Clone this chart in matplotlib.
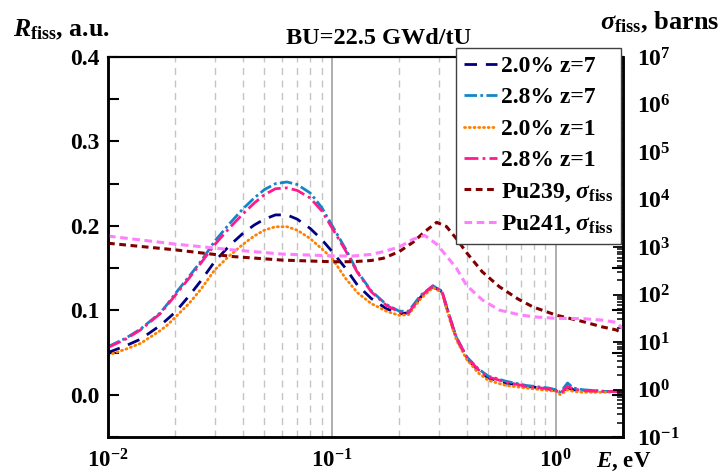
import numpy as np
import matplotlib
matplotlib.use("Agg")
import matplotlib.pyplot as plt
from matplotlib.ticker import MultipleLocator, LogLocator, FuncFormatter, NullFormatter

plt.rcParams['font.family'] = 'Liberation Serif'
plt.rcParams['font.weight'] = 'bold'
plt.rcParams['mathtext.fontset'] = 'custom'
plt.rcParams['mathtext.rm'] = 'Liberation Serif:bold'
plt.rcParams['mathtext.bf'] = 'Liberation Serif:bold'
plt.rcParams['mathtext.it'] = 'Liberation Serif:italic:bold'

# reaction rate energy grid, eV
energy = [0.01, 0.012, 0.014, 0.0171, 0.0185, 0.02, 0.023, 0.026, 0.03, 0.035,
          0.04, 0.045, 0.05, 0.056, 0.063, 0.07, 0.08, 0.09, 0.1, 0.115,
          0.13, 0.15, 0.175, 0.2, 0.22, 0.25, 0.283, 0.31, 0.34, 0.36,
          0.4, 0.45, 0.5, 0.6, 0.74, 0.93, 1.0, 1.05, 1.13, 1.2,
          1.32, 1.67, 2.0]

r_20_z7 = [0.050, 0.058, 0.066, 0.082, 0.090, 0.098, 0.117, 0.135, 0.158, 0.177,
           0.191, 0.201, 0.208, 0.213, 0.213, 0.208, 0.197, 0.184, 0.170, 0.150,
           0.130, 0.114, 0.102, 0.096, 0.097, 0.116, 0.128, 0.122, 0.087, 0.067,
           0.044, 0.029, 0.020, 0.014, 0.010, 0.007, 0.005, 0.002, 0.008, 0.006,
           0.005, 0.004, 0.004]

r_28_z7 = [0.057, 0.067, 0.078, 0.097, 0.108, 0.120, 0.140, 0.158, 0.182, 0.203,
           0.220, 0.233, 0.243, 0.250, 0.252, 0.249, 0.239, 0.222, 0.201, 0.173,
           0.146, 0.123, 0.107, 0.099, 0.099, 0.118, 0.129, 0.123, 0.088, 0.068,
           0.045, 0.031, 0.022, 0.016, 0.011, 0.008, 0.006, 0.003, 0.014, 0.008,
           0.006, 0.004, 0.004]

r_20_z1 = [0.047, 0.054, 0.061, 0.076, 0.083, 0.092, 0.108, 0.125, 0.148, 0.165,
           0.178, 0.188, 0.195, 0.199, 0.199, 0.195, 0.185, 0.173, 0.162, 0.138,
           0.121, 0.108, 0.099, 0.094, 0.095, 0.114, 0.127, 0.121, 0.085, 0.065,
           0.042, 0.026, 0.017, 0.011, 0.008, 0.005, 0.004, 0.000, 0.006, 0.004,
           0.003, 0.003, 0.004]

r_28_z1 = [0.056, 0.066, 0.077, 0.096, 0.107, 0.118, 0.138, 0.156, 0.178, 0.198,
           0.214, 0.227, 0.237, 0.244, 0.245, 0.242, 0.233, 0.218, 0.198, 0.171,
           0.145, 0.122, 0.106, 0.098, 0.097, 0.117, 0.129, 0.123, 0.088, 0.068,
           0.045, 0.030, 0.021, 0.015, 0.010, 0.007, 0.005, 0.002, 0.010, 0.007,
           0.005, 0.004, 0.004]

# fission cross sections, barns
energy_xs = [0.01, 0.02, 0.036, 0.06, 0.1, 0.124, 0.15, 0.17, 0.2, 0.23,
             0.26, 0.294, 0.325, 0.36, 0.4, 0.47, 0.56, 0.68, 0.79, 1.0,
             1.32, 1.6, 1.86, 2.0]
xs_pu239 = [1200, 870, 630, 530, 490, 490, 520, 580, 800, 1250,
            2100, 3300, 2700, 1500, 760, 300, 146, 80, 55, 37,
            27, 21, 18, 15.5]
xs_pu241 = [1700, 1150, 870, 710, 650, 645, 700, 800, 1000, 1450,
            1750, 1150, 650, 360, 155, 77, 47, 38, 34, 31.5,
            31, 29, 26, 19]

fig = plt.figure(figsize=(7.26, 4.76), dpi=100)
ax = fig.add_axes([0.1488, 0.0819, 0.7094, 0.7984])
ax2 = ax.twinx()

l1, = ax.plot(energy, r_20_z7, color='#000080', lw=2.0, ls=(0, (4.5, 3.2)), label='2.0% z=7')
l2, = ax.plot(energy, r_28_z7, color='#1287c8', lw=2.0, ls=(0, (4.5, 1.2, 1.0, 1.2)), label='2.8% z=7')
l3, = ax.plot(energy, r_20_z1, color='#ff8000', lw=2.0, ls=(0, (0.4, 1.3)),
              dash_capstyle='round', label='2.0% z=1')
l4, = ax.plot(energy, r_28_z1, color='#ff1a8c', lw=2.0, ls=(0, (5, 1.5, 1.0, 1.5)), label='2.8% z=1')
l5, = ax2.plot(energy_xs, xs_pu239, color='#800000', lw=2.2, ls=(0, (2.2, 1.5)),
               label=r'Pu239, $\sigma_{\mathrm{fiss}}$')
l6, = ax2.plot(energy_xs, xs_pu241, color='#ff80ff', lw=2.2, ls=(0, (2.5, 1.5)),
               label=r'Pu241, $\sigma_{\mathrm{fiss}}$')

ax.set_xscale('log')
ax.set_xlim(0.01, 2.0)
ax.set_ylim(-0.05, 0.4)
ax2.set_yscale('log')
ax2.set_ylim(0.1, 1e7)

ax.yaxis.set_major_locator(MultipleLocator(0.1))
ax.yaxis.set_minor_locator(MultipleLocator(0.05))
ax.yaxis.set_major_formatter(FuncFormatter(lambda v, p: f'{v:.1f}'))
ax.xaxis.set_major_formatter(FuncFormatter(lambda v, p: r'$\mathrm{10^{%d}}$' % round(np.log10(v))))
ax.xaxis.set_minor_formatter(NullFormatter())
ax2.yaxis.set_major_locator(LogLocator(base=10, numticks=20))
ax2.yaxis.set_minor_locator(LogLocator(base=10, subs=np.arange(2, 10), numticks=20))
ax2.yaxis.set_major_formatter(FuncFormatter(lambda v, p: r'$\mathrm{10^{%d}}$' % round(np.log10(v))))
ax2.yaxis.set_minor_formatter(NullFormatter())

ax.tick_params(axis='y', which='both', direction='in', length=8, width=1.5,
               left=True, right=True, labelsize=17, pad=6)
ax.tick_params(axis='x', which='both', length=0, labelsize=16.5, pad=9)
ax2.tick_params(axis='y', which='major', direction='in', length=7, width=1.3,
                labelsize=17, pad=10)
ax2.tick_params(axis='y', which='minor', direction='in', length=4.5, width=1.1)

ax.grid(which='major', axis='x', color='#a8a8a8', lw=1.3, ls='-')
ax.grid(which='minor', axis='x', color='#c4c4c4', lw=1.0, ls=(0, (5, 4)))
ax.grid(which='both', axis='y', visible=False)

for a in (ax, ax2):
    for side in ('left', 'bottom', 'right'):
        a.spines[side].set_linewidth(1.8)
    a.spines['top'].set_linewidth(1.5)

ax.set_title('BU=22.5 GWd/tU', fontsize=17.5, fontweight='bold', pad=9, x=0.525)

fig.text(0.018, 1 - 36 / 476, r'$R_{\mathrm{fiss}}$, a.u.', fontsize=18.5, fontweight='bold', va='baseline')
fig.text(600 / 726, 1 - 29 / 476, r'$\sigma_{\mathrm{fiss}}$, barns', fontsize=19, fontweight='bold', va='baseline')
fig.text(596 / 726, 3 / 476, r'$E$, eV', fontsize=16.5, fontweight='bold', va='bottom')

leg = ax2.legend(handles=[l1, l2, l3, l4, l5, l6], loc='upper right',
                 bbox_to_anchor=(0.996, 1.024), borderaxespad=0, fontsize=17,
                 frameon=True, fancybox=False, framealpha=1, edgecolor='#404040',
                 handlelength=1.4, handletextpad=0.2, labelspacing=0.42,
                 borderpad=0.32)
leg.get_frame().set_linewidth(1.0)

fig.savefig('out.png', dpi=100)
